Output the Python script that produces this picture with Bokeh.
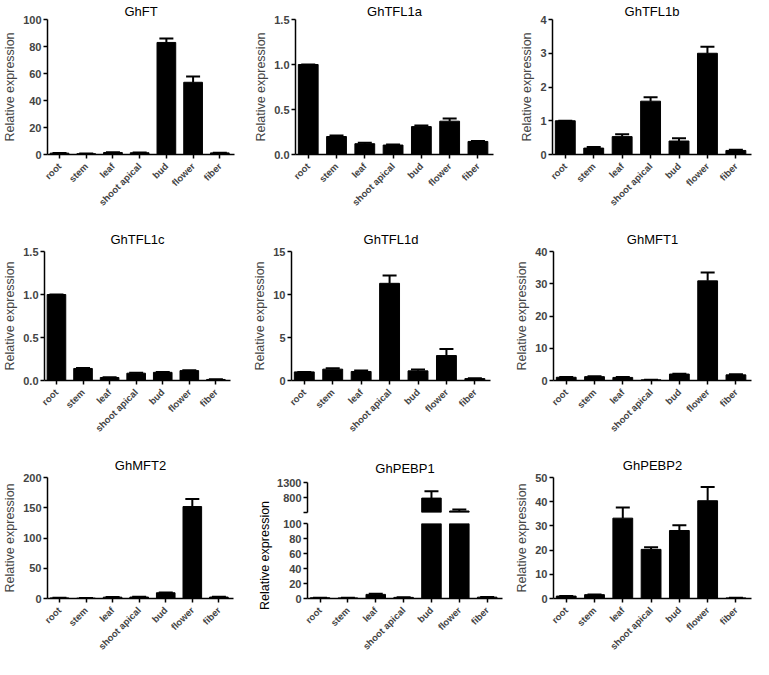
import math
import numpy as np
from bokeh.plotting import figure
from bokeh.models import (ColumnDataSource, Range1d, FixedTicker, Whisker, TeeHead,
                          Label, NumeralTickFormatter)
from bokeh.layouts import row, column
from bokeh.embed import file_html
from bokeh.resources import INLINE

# ---------------- data ----------------
categories = ["root", "stem", "leaf", "shoot apical", "bud", "flower", "fiber"]

ft_mean = [1.0, 0.6, 1.5, 1.3, 83.0, 53.5, 1.2]
ft_err = [0.1, 0.1, 0.2, 0.2, 3.0, 4.3, 0.1]
ft_ticks = [0, 20, 40, 60, 80, 100]

tfl1a_mean = [1.0, 0.20, 0.12, 0.105, 0.31, 0.37, 0.145]
tfl1a_err = [0.0, 0.012, 0.01, 0.005, 0.012, 0.03, 0.006]
tfl1a_ticks = [0, 0.5, 1.0, 1.5]

tfl1b_mean = [1.0, 0.19, 0.53, 1.58, 0.40, 3.0, 0.12]
tfl1b_err = [0.0, 0.03, 0.07, 0.12, 0.08, 0.19, 0.02]
tfl1b_ticks = [0, 1, 2, 3, 4]

tfl1c_mean = [1.0, 0.14, 0.035, 0.085, 0.095, 0.115, 0.012]
tfl1c_err = [0.0, 0.005, 0.003, 0.005, 0.003, 0.004, 0.002]
tfl1c_ticks = [0, 0.5, 1.0, 1.5]

tfl1d_mean = [1.0, 1.32, 1.05, 11.3, 1.12, 2.9, 0.22]
tfl1d_err = [0.0, 0.1, 0.1, 0.9, 0.15, 0.75, 0.03]
tfl1d_ticks = [0, 5, 10, 15]

mft1_mean = [1.0, 1.2, 0.95, 0.2, 2.0, 30.9, 1.75]
mft1_err = [0.05, 0.1, 0.1, 0.02, 0.1, 2.6, 0.15]
mft1_ticks = [0, 10, 20, 30, 40]

mft2_mean = [1.0, 0.6, 2.2, 2.4, 9.5, 152.0, 2.4]
mft2_err = [0.1, 0.1, 0.3, 0.3, 0.5, 12.5, 0.3]
mft2_ticks = [0, 50, 100, 150, 200]

pebp1_mean = [1.0, 0.8, 5.5, 1.5, 780.0, 350.0, 1.8]
pebp1_err = [0.1, 0.1, 0.9, 0.2, 230.0, 50.0, 0.2]
pebp1_low_ticks = [0, 20, 40, 60, 80, 100]
pebp1_high_ticks = [300, 800, 1300]
pebp1_high_labels = {300: ""}

pebp2_mean = [1.0, 1.6, 33.2, 20.3, 28.1, 40.4, 0.25]
pebp2_err = [0.05, 0.1, 4.4, 0.9, 2.2, 5.7, 0.03]
pebp2_ticks = [0, 10, 20, 30, 40, 50]

YLABEL = "Relative expression"
FONT = "Liberation Sans"


def make_panel(title, means, errs, yticks, width, height, bl, br, bt, bb,
               fmt="0", ylabel=YLABEL, show_x=True, title_standoff=10,
               label_overrides=None, x_range=None):
    y0, y1 = yticks[0], yticks[-1]
    if x_range is None:
        x_range = Range1d(-0.45, 6.55)
    p = figure(width=width, height=height, x_range=x_range,
               y_range=Range1d(y0, y1), output_backend="svg",
               toolbar_location=None, min_border_left=bl, min_border_right=br,
               min_border_top=bt, min_border_bottom=bb,
               x_axis_location="below" if show_x else None)
    p.outline_line_color = None
    p.xgrid.visible = False
    p.ygrid.visible = False
    p.background_fill_color = "white"
    p.border_fill_color = "white"

    idx = np.arange(len(categories))
    m = np.array(means, dtype=float)
    up = m + np.array(errs, dtype=float)
    # bars: the part of each bar that falls inside this axis segment
    vis = m > y0
    src = ColumnDataSource(dict(x=idx[vis].tolist(),
                                top=np.minimum(m[vis], y1).tolist()))
    p.vbar(x="x", top="top", bottom=y0, width=0.7, source=src,
           fill_color="black", line_color="black")
    # error bars only for bars whose top lies inside this axis segment
    inside = (m >= y0) & (m <= y1)
    wsrc = ColumnDataSource(dict(x=idx[inside].tolist(), m=m[inside].tolist(),
                                 up=up[inside].tolist()))
    w = Whisker(base="x", lower="m", upper="up", source=wsrc,
                dimension="height", line_width=2, line_color="black",
                upper_head=TeeHead(size=14, line_width=2, line_color="black"),
                lower_head=None)
    p.add_layout(w)

    ya = p.yaxis[0]
    ya.ticker = FixedTicker(ticks=yticks, minor_ticks=[])
    ya.formatter = NumeralTickFormatter(format=fmt)
    if label_overrides:
        ya.major_label_overrides = label_overrides
    ya.major_label_text_font = FONT
    ya.major_label_text_font_style = "bold"
    ya.major_label_text_font_size = "11px"
    ya.major_label_standoff = 2
    ya.major_tick_out = 4
    ya.major_tick_in = 0
    ya.major_tick_line_width = 1.5
    ya.axis_line_width = 1.5
    if ylabel:
        ya.axis_label = ylabel
        ya.axis_label_text_font = FONT
        ya.axis_label_text_font_style = "normal"
        ya.axis_label_text_font_size = "12.5px"
        ya.axis_label_standoff = 3

    if show_x:
        xa = p.xaxis[0]
        xa.ticker = FixedTicker(ticks=idx.tolist(), minor_ticks=[])
        xa.major_label_overrides = {int(i): c for i, c in enumerate(categories)}
        xa.major_label_orientation = math.pi / 4
        xa.major_label_text_font = FONT
        xa.major_label_text_font_style = "bold"
        xa.major_label_text_font_size = "9.5px"
        xa.major_label_standoff = 6
        xa.major_tick_out = 4
        xa.major_tick_in = 0
        xa.major_tick_line_width = 1.5
        xa.axis_line_width = 1.5

    if title is not None:
        p.title.text = title
        p.title.align = "center"
        p.title.text_font = FONT
        p.title.text_font_size = "13px"
        p.title.text_font_style = "normal"
        p.title.text_color = "black"
        p.title.standoff = title_standoff
        p.title.offset = 0
    return p


# ---------------- row 1 ----------------
p1 = make_panel("GhFT", ft_mean, ft_err, ft_ticks, 248, 217, 34, 14, 17, 63,
                title_standoff=2)
p2 = make_panel("GhTFL1a", tfl1a_mean, tfl1a_err, tfl1a_ticks, 256, 217, 47, 11,
                17, 63, fmt="0.0", title_standoff=2)
p3 = make_panel("GhTFL1b", tfl1b_mean, tfl1b_err, tfl1b_ticks, 249, 217, 48, 2,
                17, 63, title_standoff=2)

# ---------------- row 2 ----------------
p4 = make_panel("GhTFL1c", tfl1c_mean, tfl1c_err, tfl1c_ticks, 248, 223, 30, 18,
                29, 60, fmt="0.0")
p5 = make_panel("GhTFL1d", tfl1d_mean, tfl1d_err, tfl1d_ticks, 256, 223, 43, 14,
                34, 60)
p6 = make_panel("GhMFT1", mft1_mean, mft1_err, mft1_ticks, 249, 223, 49, 2,
                29, 60)

# ---------------- row 3 ----------------
p7 = make_panel("GhMFT2", mft2_mean, mft2_err, mft2_ticks, 248, 219, 34, 15,
                37, 61)

shared_x = Range1d(-0.45, 6.55)
p8a = make_panel("GhPEBP1", pebp1_mean, pebp1_err, pebp1_high_ticks, 230, 76,
                 32, 2, 42, 4, ylabel=None, show_x=False, title_standoff=14,
                 label_overrides=pebp1_high_labels, x_range=shared_x)
p8b = make_panel(None, pebp1_mean, pebp1_err, pebp1_low_ticks, 230, 143,
                 32, 2, 7, 61, ylabel=None, x_range=shared_x)
p8lab = figure(width=26, height=219, x_range=Range1d(0, 1),
               y_range=Range1d(0, 1), output_backend="svg",
               toolbar_location=None, min_border=0,
               x_axis_location=None, y_axis_location=None)
p8lab.outline_line_color = None
p8lab.xgrid.visible = False
p8lab.ygrid.visible = False
p8lab.add_layout(Label(x=0.62, y=0.475, text=YLABEL, angle=math.pi / 2,
                       text_align="center", text_baseline="middle",
                       text_font=FONT, text_font_size="12.5px",
                       text_color="black"))
p8 = row(p8lab, column(p8a, p8b))

p9 = make_panel("GhPEBP2", pebp2_mean, pebp2_err, pebp2_ticks, 249, 219, 49, 2,
                34, 61)

layout = column(row(p1, p2, p3), row(p4, p5, p6), row(p7, p8, p9))

open("out.html", "w").write(file_html(layout, INLINE))
